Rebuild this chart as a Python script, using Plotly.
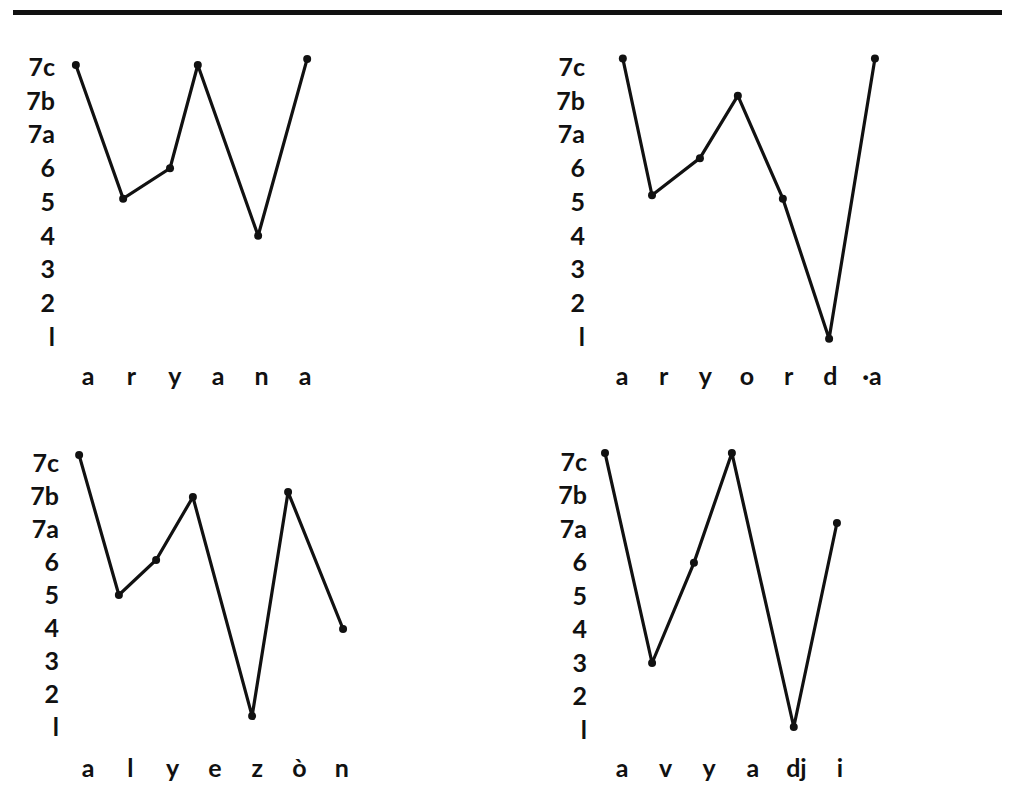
import plotly.graph_objects as go

# page body has an 8px margin; work in reference pixel coords and shift
OFF = 8
W, H = 1002, 791

# Pitch levels (y tick labels), 1..9
level_vals = [1, 2, 3, 4, 5, 6, 7, 8, 9]
level_text = ["l", "2", "3", "4", "5", "6", "7a", "7b", "7c"]

# Panel 1: aryana
p1_labels = ["a", "r", "y", "a", "n", "a"]
p1_x = [-0.28, 0.81, 1.89, 2.53, 3.92, 5.05]
p1_y = [9.06, 5.1, 6.0, 9.06, 4.0, 9.24]

# Panel 2: aryorda
p2_labels = ["a", "r", "y", "o", "r", "d", "·a"]
p2_x = [0.02, 0.72, 1.87, 2.78, 3.86, 4.97, 6.07]
p2_y = [9.25, 5.2, 6.3, 8.15, 5.1, 0.95, 9.25]

# Panel 3: alyezòn
p3_labels = ["a", "l", "y", "e", "z", "ò", "n"]
p3_x = [-0.21, 0.73, 1.61, 2.48, 3.88, 4.73, 6.03]
p3_y = [9.24, 5.0, 6.06, 7.97, 1.33, 8.12, 3.97]

# Panel 4: avyadji
p4_labels = ["a", "v", "y", "a", "dj", "i"]
p4_x = [-0.39, 0.69, 1.65, 2.52, 3.94, 4.93]
p4_y = [9.27, 3.0, 5.99, 9.27, 1.09, 7.18]

FONT = "Lato"

# geometry (reference px): left, right, top, bottom, label0_px, label_spacing, tick9_px, tick_spacing
panels = [
    (p1_labels, p1_x, p1_y, 60, 335, 45, 358, 88, 43.4, 67, 33.75),
    (p2_labels, p2_x, p2_y, 590, 900, 45, 358, 622, 41.67, 67, 33.75),
    (p3_labels, p3_x, p3_y, 64, 370, 440, 750, 88, 42.3, 463, 33.0),
    (p4_labels, p4_x, p4_y, 592, 880, 440, 750, 622, 43.6, 462, 33.5),
]


def px(v):
    return (v - OFF) / W


def py(v):
    return 1 - (v - OFF) / H


fig = go.Figure()
layout = {}
for i, (labs, xs, ys, l, r, t, b, lab0, lsp, t9, tsp) in enumerate(panels, start=1):
    xa = "x" if i == 1 else f"x{i}"
    ya = "y" if i == 1 else f"y{i}"
    fig.add_trace(go.Scatter(
        x=xs, y=ys, mode="lines+markers", xaxis=xa, yaxis=ya,
        line=dict(color="#111", width=3.2),
        marker=dict(color="#111", size=8),
        showlegend=False, hoverinfo="skip",
    ))
    xr = [(l - lab0) / lsp, (r - lab0) / lsp]
    yr = [9 - (b - t9) / tsp, 9 - (t - t9) / tsp]
    xkey = "xaxis" if i == 1 else f"xaxis{i}"
    ykey = "yaxis" if i == 1 else f"yaxis{i}"
    layout[xkey] = dict(
        domain=[px(l), px(r)], range=xr, anchor=ya,
        tickvals=list(range(len(labs))), ticktext=labs,
        showgrid=False, zeroline=False, showline=False, ticks="",
        tickfont=dict(family=FONT, size=25, color="#111", weight="bold"),
        ticklabelstandoff=1, fixedrange=True,
    )
    layout[ykey] = dict(
        domain=[py(b), py(t)], range=yr, anchor=xa,
        tickvals=level_vals, ticktext=level_text,
        showgrid=False, zeroline=False, showline=False, ticks="",
        tickfont=dict(family=FONT, size=25, color="#111", weight="bold"),
        ticklabelstandoff=4, fixedrange=True,
    )

fig.update_layout(
    width=W, height=H,
    margin=dict(l=0, r=0, t=0, b=0),
    paper_bgcolor="white", plot_bgcolor="white",
    **layout,
)

# heavy rule across the top of the page
fig.add_shape(type="line", xref="paper", yref="paper",
              x0=px(13), x1=1.0, y0=py(12.5), y1=py(12.5),
              line=dict(color="#111", width=5))

fig.write_html("out.html")
